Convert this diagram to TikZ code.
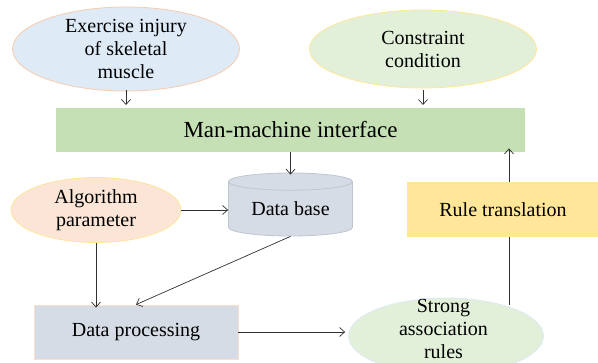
\documentclass[tikz,border=0pt]{standalone}
\usepackage{fontspec}
\setmainfont{Liberation Serif}
\newfontfamily\tnr{Liberation Serif}
\usetikzlibrary{shapes.geometric,arrows.meta}
\definecolor{bluefill}{HTML}{DEEBF7}
\definecolor{greenfill}{HTML}{E2F0D9}
\definecolor{orangefill}{HTML}{FBE5D6}
\definecolor{orangeedge}{HTML}{F8CBAD}
\definecolor{yellowedge}{HTML}{FFE699}
\definecolor{mmi}{HTML}{C5E0B4}
\definecolor{grayblue}{HTML}{D6DCE5}
\definecolor{dbedge}{HTML}{C0C6CF}
\definecolor{rulefill}{HTML}{FFE699}
\definecolor{arrowcol}{HTML}{303030}
\begin{document}
\begin{tikzpicture}[x=1pt,y=-1pt,
  every node/.style={font=\tnr\fontsize{20}{23}\selectfont, align=center, inner sep=0pt},
  oval/.style={ellipse, line width=0.8pt},
  box/.style={rectangle, line width=0.8pt},
  conn/.style={draw=arrowcol, line width=0.7pt, -{Straight Barb[length=5pt,width=9pt]}},
  plain/.style={draw=arrowcol, line width=0.7pt}]
\useasboundingbox (0,0) rectangle (598,363);
\node[oval, fill=bluefill, draw=orangeedge, minimum width=227, minimum height=78] (inj) at (126,49) {Exercise injury\\of skeletal\\muscle};
\node[oval, fill=greenfill, draw=yellowedge, minimum width=227, minimum height=78] (con) at (423,49) {Constraint\\condition};
\node[box, fill=mmi, minimum width=469, minimum height=44, font=\tnr\fontsize{23}{23}\selectfont] (mmi) at (290.5,130) {Man-machine interface};
\node[oval, fill=orangefill, draw=yellowedge, minimum width=170, minimum height=65] (alg) at (96,210) {Algorithm\\parameter};
\node[cylinder, shape border rotate=90, aspect=0.22, fill=grayblue, draw=dbedge, line width=0.8pt, minimum height=63, minimum width=124] (db) at (290.5,209) {Data base};
\node[box, fill=grayblue, draw=orangeedge!60, minimum width=204, minimum height=54] (dp) at (136,332) {Data processing};
\node[oval, fill=greenfill, draw=bluefill, minimum width=195, minimum height=76] (sar) at (446,336) {};
\node (sartext) at (443.5,329) {Strong\\association\\rules};
\node[box, fill=rulefill, minimum width=192, minimum height=55] (rt) at (503,209.5) {Rule translation};
\coordinate (injb) at (126,90);
\coordinate (conb) at (423,90);
\coordinate (mmiA) at (126,105);
\coordinate (mmiB) at (423,105);
\draw[conn] (injb) -- (mmiA);
\draw[conn] (conb) -- (mmiB);
\draw[conn] (mmi.south -| db.north) -- ([yshift=-2pt]db.north);
\draw[conn] (alg.east) -- (db.west |- alg.east);
\draw[conn] (alg.south) -- ([yshift=-3pt]dp.north -| alg.south);
\draw[conn] (db.south) -- (dp.north);
\draw[conn] (dp.east) -- ([xshift=-3pt]sar.west |- dp.east);
\coordinate (sartop) at (509,305);
\draw[plain] (sartop) -- (rt.south -| sartop);
\draw[conn] (rt.north -| sartop) -- ([yshift=4pt]mmi.south -| sartop);
\end{tikzpicture}
\end{document}
